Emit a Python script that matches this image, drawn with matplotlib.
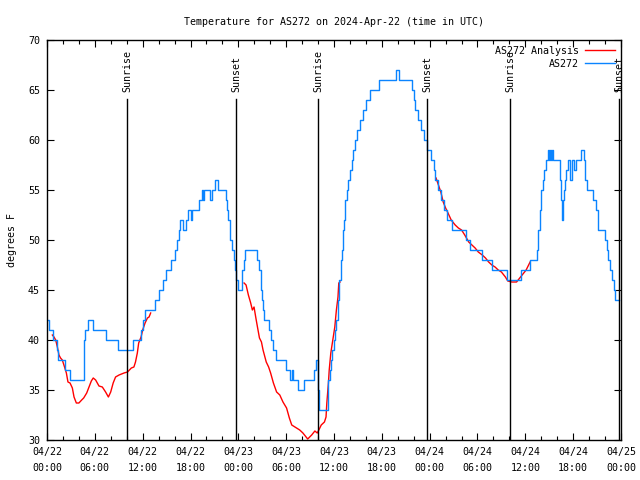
import numpy as np
import matplotlib
matplotlib.use('Agg')
import matplotlib.pyplot as plt
from matplotlib.ticker import MultipleLocator, FixedLocator

# hours since 2024-04-22 00:00 UTC
obs_hours = [0.0, 0.3, 0.8, 1.2, 1.4, 2.3, 2.9, 4.6, 4.7, 4.8, 5.1, 5.8, 7.4, 8.9,
             10.8, 11.8, 12.0, 12.3, 13.6, 14.1, 14.5, 14.9, 15.5, 16.0, 16.3, 16.5,
             16.7, 17.0, 17.4, 17.7, 18.0, 18.2, 19.1, 19.4, 19.6, 19.7, 20.5, 20.7,
             21.1, 21.4, 22.4, 22.6, 22.7, 22.9, 23.0, 23.2, 23.4, 23.55, 23.7, 23.9,
             24.4, 24.5, 24.7, 24.8, 26.4, 26.6, 26.8, 26.9, 27.0, 27.1, 27.2, 27.9,
             28.1, 28.3, 28.7, 30.0, 30.5, 30.7, 30.8, 31.5, 32.2, 33.5, 33.8, 33.95,
             34.0, 34.1, 35.2, 35.3, 35.45, 35.6, 35.8, 35.95, 36.1, 36.3, 36.45, 36.6,
             36.9, 37.0, 37.1, 37.25, 37.4, 37.6, 37.8, 37.95, 38.2, 38.4, 38.6, 38.9,
             39.2, 39.6, 40.0, 40.5, 41.6, 43.8, 44.2, 45.8, 46.0, 46.2, 46.5, 46.9,
             47.3, 47.7, 48.2, 48.5, 48.7, 49.0, 49.4, 49.8, 50.2, 50.8, 52.5, 53.0,
             54.6, 55.8, 57.7, 59.4, 60.6, 61.5, 61.65, 61.8, 62.0, 62.2, 62.4, 62.6,
             62.8, 62.95, 63.1, 63.2, 63.3, 63.45, 64.35, 64.45, 64.55, 64.65, 64.75,
             64.85, 64.95, 65.1, 65.4, 65.65, 65.8, 66.1, 66.3, 67.0, 67.3, 67.5, 67.7,
             68.5, 68.9, 69.1, 70.0, 70.2, 70.4, 70.6, 70.85, 71.1, 71.3, 71.8]
obs_temp = [42, 41, 40, 39, 38, 37, 36, 37, 40, 41, 42, 41, 40, 39,
            40, 41, 42, 43, 44, 45, 46, 47, 48, 49, 50, 51,
            52, 51, 52, 53, 52, 53, 54, 55, 54, 55, 54, 55,
            56, 55, 54, 53, 52, 51, 50, 49, 48, 47, 46, 45,
            46, 47, 48, 49, 48, 47, 46, 45, 44, 43, 42, 41,
            40, 39, 38, 37, 36, 37, 36, 35, 36, 37, 38, 37,
            35, 33, 34, 36, 37, 38, 39, 40, 41, 42, 44, 46,
            48, 49, 51, 52, 54, 55, 56, 57, 58, 59, 60, 61,
            62, 63, 64, 65, 66, 67, 66, 65, 64, 63, 62, 61,
            60, 59, 58, 57, 56, 55, 54, 53, 52, 51, 50, 49,
            48, 47, 46, 47, 48, 49, 51, 53, 55, 56, 57, 58,
            59, 58, 59, 58, 59, 58, 56, 54, 53, 52, 54,
            55, 56, 57, 58, 56, 58, 57, 58, 59, 58, 56, 55,
            54, 53, 51, 50, 49, 48, 47, 46, 45, 44, 44]

# analysis, three pieces
ana1_hours = [0.67, 0.88, 1.09, 1.3, 1.5, 1.7, 1.92, 2.2, 2.43, 2.63, 2.89, 3.18, 3.39,
              3.68, 4.0, 4.35, 4.6, 4.98, 5.27, 5.56, 5.8, 6.1, 6.52, 6.94, 7.35, 7.7,
              7.99, 8.3, 8.6, 9.04, 9.66, 10.1, 10.58, 10.9, 11.1, 11.33, 11.5, 11.8,
              12.0, 12.3, 12.6, 12.8, 13.0]
ana1_temp = [40.5, 40.3, 40.0, 39.3, 38.5, 38.2, 38.0, 37.3, 36.7, 35.8, 35.7, 35.2, 34.3,
             33.7, 33.7, 34.0, 34.2, 34.7, 35.3, 35.9, 36.2, 36.0, 35.4, 35.3, 34.8, 34.3,
             34.8, 35.7, 36.3, 36.5, 36.7, 36.8, 37.2, 37.3, 37.8, 38.7, 39.7, 40.3,
             41.0, 41.7, 42.2, 42.3, 42.7]
ana2_hours = [24.72, 24.97, 25.26, 25.55, 25.76, 25.97, 26.2, 26.4, 26.65, 26.9, 27.1,
              27.5, 27.8, 28.05, 28.4, 28.8, 29.2, 29.6, 30.05, 30.4, 30.7, 31.1, 31.7,
              32.1, 32.5, 32.7, 33.2, 33.6, 33.9, 34.1, 34.4, 34.8, 35.0, 35.1, 35.3,
              35.4, 35.6, 35.85, 36.1, 36.3, 36.5, 36.6, 36.76]
ana2_temp = [45.7, 45.5, 44.5, 43.7, 43.0, 43.3, 42.2, 41.3, 40.2, 39.8, 39.0,
             37.8, 37.3, 36.7, 35.7, 34.8, 34.5, 33.8, 33.2, 32.2, 31.5, 31.3, 31.0,
             30.7, 30.3, 30.1, 30.5, 30.9, 30.7, 31.0, 31.5, 31.8, 32.3, 33.7, 35.7,
             37.0, 38.7, 40.0, 41.3, 43.0, 44.3, 45.7, 45.8]
ana3_hours = [48.8, 49.1, 49.4, 49.7, 50.0, 50.3, 50.7, 51.2, 51.6, 52.0, 52.4, 52.9,
              53.3, 53.7, 54.1, 54.6, 55.0, 55.4, 55.8, 56.2, 56.6, 57.0, 57.5, 57.8,
              58.3, 58.9, 59.3, 59.7, 60.1, 60.6]
ana3_temp = [56.2, 55.5, 54.8, 53.8, 53.2, 52.7, 52.0, 51.5, 51.2, 51.0, 50.5, 49.8,
             49.5, 49.2, 48.8, 48.5, 48.2, 47.8, 47.5, 47.3, 47.0, 46.8, 46.3, 45.9,
             45.8, 45.8, 46.2, 46.6, 47.0, 47.8]

sun_hours = [10.04, 23.72, 34.04, 47.72, 58.1, 71.8]
sun_names = ['Sunrise', 'Sunset', 'Sunrise', 'Sunset', 'Sunrise', 'Sunset']

tick_hours = list(range(0, 73, 6))
tick_labels = ['04/22\n00:00', '04/22\n06:00', '04/22\n12:00', '04/22\n18:00',
               '04/23\n00:00', '04/23\n06:00', '04/23\n12:00', '04/23\n18:00',
               '04/24\n00:00', '04/24\n06:00', '04/24\n12:00', '04/24\n18:00',
               '04/25\n00:00']

plt.rcParams['font.family'] = ['DejaVu Sans Mono']
plt.rcParams['font.size'] = 7.2

fig = plt.figure(figsize=(6.4, 4.8), dpi=100)
ax = fig.add_axes([47 / 640, 40 / 480, 574 / 640, 400 / 480])

red = '#ff0000'
blue = '#0a84ff'
ana_t = ana1_hours + [np.nan] + ana2_hours + [np.nan] + ana3_hours
ana_v = ana1_temp + [np.nan] + ana2_temp + [np.nan] + ana3_temp
ax.plot(ana_t, ana_v, color=red, lw=1.0, label='AS272 Analysis')
ax.plot(obs_hours, obs_temp, color=blue, lw=1.0, drawstyle='steps-post', label='AS272')

for h, name in zip(sun_hours, sun_names):
    ax.plot([h, h], [30, 64.1], color='black', lw=1.0)
    ax.text(h, 64.8, name, rotation=90, ha='center', va='bottom')

ax.set_xlim(0, 72)
ax.set_ylim(30, 70)
ax.xaxis.set_major_locator(FixedLocator(tick_hours))
ax.set_xticklabels(tick_labels, linespacing=1.8)
ax.xaxis.set_minor_locator(MultipleLocator(2))
ax.yaxis.set_major_locator(MultipleLocator(5))
ax.tick_params(which='both', direction='in', top=True, right=True, width=0.8)
ax.tick_params(which='major', length=5, pad=5)
ax.tick_params(which='minor', length=3)
ax.set_ylabel('degrees F', labelpad=8)
ax.set_title('Temperature for AS272 on 2024-Apr-22 (time in UTC)', fontsize=7.2, pad=11)
for s in ax.spines.values():
    s.set_linewidth(1.0)

ax.legend(loc='upper right', frameon=False, markerfirst=False, handlelength=3,
          borderaxespad=0.2, labelspacing=0.3, handletextpad=0.6)

plt.savefig('out.png')
